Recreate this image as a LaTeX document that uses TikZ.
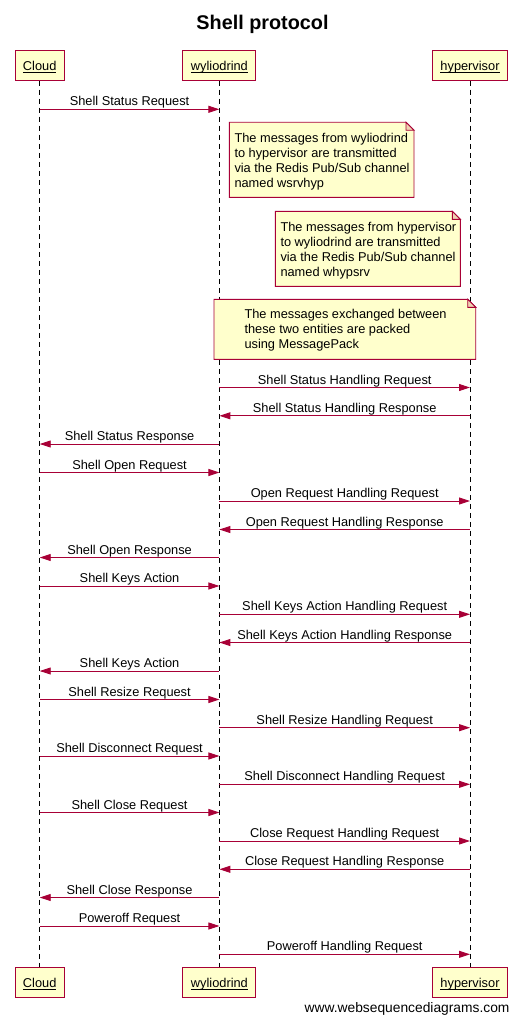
\documentclass[tikz,border=0pt]{standalone}
\usepackage{fontspec}
\setmainfont{Liberation Sans}
\usetikzlibrary{arrows.meta}
\definecolor{wsdred}{HTML}{A80036}
\definecolor{wsdyellow}{HTML}{FFFFCC}
\newsavebox{\ulbox}
\newcommand{\ulname}[1]{\sbox{\ulbox}{#1}\rlap{\rule[-2.4pt]{\wd\ulbox}{0.8pt}}\usebox{\ulbox}}
\begin{document}
\begin{tikzpicture}[x=1pt,y=-1pt,
    actor/.style={draw=wsdred,fill=wsdyellow,line width=0.9pt,minimum height=30pt,
      inner xsep=8pt,text height=9.5pt,text depth=0pt,font=\fontsize{12.8}{15}\selectfont},
    life/.style={dash pattern=on 5pt off 4pt,line width=0.9pt},
    msg/.style={wsdred,line width=0.9pt,-{Triangle[length=11pt,width=7pt]}},
    lbl/.style={midway,anchor=base,yshift=3.5pt,inner sep=0pt,text=black,
      font=\fontsize{12.8}{15}\selectfont},
    note/.style={draw=wsdred,fill=wsdyellow,line width=0.9pt},
    fold/.style={draw=wsdred,fill=wsdyellow!82!wsdred,line width=0.9pt},
    notetext/.style={anchor=north west,align=left,inner sep=0pt,
      font=\fontsize{12.8}{15}\selectfont}]
    % Page
    \path[use as bounding box,fill=white] (0,0) rectangle (522,1022);

    % Title
    \node[anchor=base,font=\bfseries\fontsize{19.8}{22}\selectfont] (title) at (262.5,29.3) {Shell protocol};

    % Participants, top and bottom
    \node[actor] (cloudtop) at (39.7,65.3) {\ulname{Cloud}};
    \node[actor] (wyltop) at (219.4,65.3) {\ulname{wyliodrind}};
    \node[actor] (hyptop) at (470,65.3) {\ulname{hypervisor}};
    \node[actor] (cloudbot) at (39.7,982.3) {\ulname{Cloud}};
    \node[actor] (wylbot) at (219.4,982.3) {\ulname{wyliodrind}};
    \node[actor] (hypbot) at (470,982.3) {\ulname{hypervisor}};

    % Lifelines
    \draw[life] (cloudtop) -- (cloudbot);
    \draw[life] (wyltop) -- (wylbot);
    \draw[life] (hyptop) -- (hypbot);

    % Rows of the messages
    \coordinate (statusreq) at (0,109.3);
    \coordinate (statushreq) at (0,387.5);
    \coordinate (statushres) at (0,415.8);
    \coordinate (statusres) at (0,444);
    \coordinate (openreq) at (0,472.5);
    \coordinate (openhreq) at (0,501);
    \coordinate (openhres) at (0,529.5);
    \coordinate (openres) at (0,557.5);
    \coordinate (keysreq) at (0,586);
    \coordinate (keyshreq) at (0,614.3);
    \coordinate (keyshres) at (0,642.5);
    \coordinate (keysres) at (0,671);
    \coordinate (resizereq) at (0,699.5);
    \coordinate (resizehreq) at (0,727.7);
    \coordinate (discreq) at (0,756);
    \coordinate (dischreq) at (0,784.3);
    \coordinate (closereq) at (0,812.5);
    \coordinate (closehreq) at (0,841);
    \coordinate (closehres) at (0,869.3);
    \coordinate (closeres) at (0,897.5);
    \coordinate (offreq) at (0,926);
    \coordinate (offhreq) at (0,954.3);

    % Shell status
    \draw[msg] (cloudtop |- statusreq) -- node[lbl] {Shell Status Request} (wyltop |- statusreq);

    % Notes on the channels
    \coordinate (wsrvnw) at (229.3,122.3);
    \coordinate (wsrvse) at (414,197.3);
    \filldraw[note] (wsrvnw) -- ([xshift=-8pt]wsrvnw -| wsrvse) -- ([yshift=-8pt]wsrvnw -| wsrvse)
      -- (wsrvse) -- (wsrvnw |- wsrvse) -- cycle;
    \filldraw[fold] ([xshift=-8pt]wsrvnw -| wsrvse) -- ([xshift=-8pt,yshift=-8pt]wsrvnw -| wsrvse)
      -- ([yshift=-8pt]wsrvnw -| wsrvse) -- cycle;
    \node[notetext] (wsrvtext) at (234.3,132.7) {The messages from wyliodrind\\to hypervisor are transmitted\\via the Redis Pub/Sub channel\\named wsrvhyp};

    \coordinate (whypnw) at (275.3,211.3);
    \coordinate (whypse) at (460.3,286.3);
    \filldraw[note] (whypnw) -- ([xshift=-8pt]whypnw -| whypse) -- ([yshift=-8pt]whypnw -| whypse)
      -- (whypse) -- (whypnw |- whypse) -- cycle;
    \filldraw[fold] ([xshift=-8pt]whypnw -| whypse) -- ([xshift=-8pt,yshift=-8pt]whypnw -| whypse)
      -- ([yshift=-8pt]whypnw -| whypse) -- cycle;
    \node[notetext] (whyptext) at (280.3,221.7) {The messages from hypervisor\\to wyliodrind are transmitted\\via the Redis Pub/Sub channel\\named whypsrv};

    \coordinate (packnw) at (214,299.3);
    \coordinate (packse) at (475.7,359.3);
    \filldraw[note] (packnw) -- ([xshift=-8pt]packnw -| packse) -- ([yshift=-8pt]packnw -| packse)
      -- (packse) -- (packnw |- packse) -- cycle;
    \filldraw[fold] ([xshift=-8pt]packnw -| packse) -- ([xshift=-8pt,yshift=-8pt]packnw -| packse)
      -- ([yshift=-8pt]packnw -| packse) -- cycle;
    \node[notetext] (packtext) at (244.3,309.2) {The messages exchanged between\\these two entities are packed\\using MessagePack};

    \draw[msg] (wyltop |- statushreq) -- node[lbl] {Shell Status Handling Request} (hyptop |- statushreq);
    \draw[msg] (hyptop |- statushres) -- node[lbl] {Shell Status Handling Response} (wyltop |- statushres);
    \draw[msg] (wyltop |- statusres) -- node[lbl] {Shell Status Response} (cloudtop |- statusres);

    % Shell open
    \draw[msg] (cloudtop |- openreq) -- node[lbl] {Shell Open Request} (wyltop |- openreq);
    \draw[msg] (wyltop |- openhreq) -- node[lbl] {Open Request Handling Request} (hyptop |- openhreq);
    \draw[msg] (hyptop |- openhres) -- node[lbl] {Open Request Handling Response} (wyltop |- openhres);
    \draw[msg] (wyltop |- openres) -- node[lbl] {Shell Open Response} (cloudtop |- openres);

    % Shell keys
    \draw[msg] (cloudtop |- keysreq) -- node[lbl] {Shell Keys Action} (wyltop |- keysreq);
    \draw[msg] (wyltop |- keyshreq) -- node[lbl] {Shell Keys Action Handling Request} (hyptop |- keyshreq);
    \draw[msg] (hyptop |- keyshres) -- node[lbl] {Shell Keys Action Handling Response} (wyltop |- keyshres);
    \draw[msg] (wyltop |- keysres) -- node[lbl] {Shell Keys Action} (cloudtop |- keysres);

    % Shell resize and disconnect
    \draw[msg] (cloudtop |- resizereq) -- node[lbl] {Shell Resize Request} (wyltop |- resizereq);
    \draw[msg] (wyltop |- resizehreq) -- node[lbl] {Shell Resize Handling Request} (hyptop |- resizehreq);
    \draw[msg] (cloudtop |- discreq) -- node[lbl] {Shell Disconnect Request} (wyltop |- discreq);
    \draw[msg] (wyltop |- dischreq) -- node[lbl] {Shell Disconnect Handling Request} (hyptop |- dischreq);

    % Shell close
    \draw[msg] (cloudtop |- closereq) -- node[lbl] {Shell Close Request} (wyltop |- closereq);
    \draw[msg] (wyltop |- closehreq) -- node[lbl] {Close Request Handling Request} (hyptop |- closehreq);
    \draw[msg] (hyptop |- closehres) -- node[lbl] {Close Request Handling Response} (wyltop |- closehres);
    \draw[msg] (wyltop |- closeres) -- node[lbl] {Shell Close Response} (cloudtop |- closeres);

    % Poweroff
    \draw[msg] (cloudtop |- offreq) -- node[lbl] {Poweroff Request} (wyltop |- offreq);
    \draw[msg] (wyltop |- offhreq) -- node[lbl] {Poweroff Handling Request} (hyptop |- offhreq);

    % Credit
    \node[anchor=base east,font=\fontsize{13.8}{16}\selectfont] (credit) at (513,1012.5) {www.websequencediagrams.com};
\end{tikzpicture}
\end{document}
